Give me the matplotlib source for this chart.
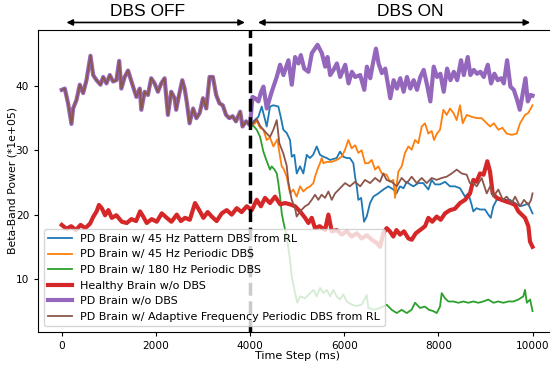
"""
Beta-band power with and without DBS
"""
import matplotlib
matplotlib.use("Agg")
import matplotlib.pyplot as plt

# shared PD trace before DBS switches on (time in ms, power in 1e5)
pre_t = [0, 64, 134, 206, 241, 312, 383, 454, 525, 610, 667, 738, 823, 880, 950, 1020,
         1090, 1160, 1220, 1266, 1337, 1408, 1480, 1585, 1657, 1690, 1760, 1830, 1900,
         1972, 2043, 2113, 2184, 2255, 2326, 2397, 2430, 2500, 2560, 2610, 2660, 2715,
         2790, 2860, 2930, 3000, 3070, 3140, 3210, 3280, 3350, 3420, 3490, 3560, 3630,
         3700, 3790, 3840, 3915, 4000]
pre_v = [39.4, 39.6, 37.3, 34.1, 36.5, 37.8, 40.2, 38.9, 40.9, 44.7, 41.7, 40.9, 40.2,
         41.4, 40.4, 41.7, 40.7, 40.9, 43.9, 39.6, 41.4, 42.4, 40.7, 38.3, 39.6, 36.3,
         39.1, 38.6, 41.2, 40.4, 39.1, 40.4, 41.2, 35.5, 39.1, 38.1, 36.3, 38.9, 40.9,
         39.6, 37.3, 34.2, 36.5, 35.0, 35.8, 38.1, 36.5, 41.4, 41.4, 38.6, 37.3, 37.0,
         35.5, 35.0, 35.3, 34.5, 36.0, 33.7, 34.5, 33.9]

blue_t = [4070, 4176, 4248, 4354, 4424, 4495, 4601, 4651, 4707, 4778, 4849, 4885, 4940,
          4991, 5062, 5132, 5204, 5270, 5340, 5416, 5486, 5560, 5629, 5700, 5840, 5911,
          5980, 6054, 6120, 6194, 6230, 6266, 6300, 6360, 6421, 6478, 6549, 6619, 6725,
          6831, 6937, 7043, 7110, 7185, 7260, 7328, 7400, 7470, 7574, 7680, 7787, 7858,
          7930, 8035, 8142, 8248, 8350, 8460, 8566, 8636, 8708, 8742, 8810, 8885, 8990,
          9061, 9112, 9168, 9239, 9380, 9522, 9628, 9734, 9840, 9900, 10000]
blue_v = [34.5, 35.2, 36.8, 33.7, 36.8, 37.0, 36.8, 35.2, 33.2, 32.7, 31.6, 29.0, 29.3,
          26.4, 27.5, 26.4, 29.3, 28.8, 29.3, 30.6, 29.3, 29.0, 28.8, 28.5, 28.8, 29.8,
          29.0, 28.8, 28.8, 28.0, 25.9, 24.4, 22.3, 22.6, 18.9, 19.7, 21.8, 22.8, 23.3,
          23.9, 24.4, 23.9, 23.3, 24.4, 24.1, 25.1, 24.7, 24.4, 24.9, 24.9, 23.9, 25.4,
          24.7, 24.7, 25.1, 24.4, 24.4, 24.1, 22.8, 23.3, 21.5, 20.5, 21.0, 20.8, 20.8,
          20.0, 19.5, 21.3, 22.3, 22.3, 22.3, 21.8, 21.3, 21.5, 21.8, 20.2]

orange_t = [4070, 4150, 4212, 4283, 4354, 4424, 4495, 4580, 4637, 4673, 4707, 4778, 4849,
            4919, 4990, 5062, 5132, 5204, 5275, 5345, 5380, 5430, 5486, 5523, 5557, 5629,
            5735, 5841, 5947, 6018, 6088, 6159, 6230, 6300, 6370, 6442, 6513, 6584, 6655,
            6725, 6797, 6903, 6973, 7043, 7080, 7150, 7221, 7292, 7362, 7433, 7504, 7575,
            7646, 7716, 7787, 7858, 7908, 7970, 8035, 8106, 8177, 8248, 8320, 8390, 8460,
            8517, 8602, 8710, 8815, 8920, 9027, 9100, 9180, 9274, 9360, 9452, 9560, 9664,
            9735, 9841, 9910, 10000]
orange_v = [34.0, 34.5, 33.5, 33.2, 31.6, 32.0, 30.6, 31.7, 29.0, 27.5, 27.2, 25.9, 23.3,
            23.9, 22.8, 24.4, 23.6, 24.1, 24.4, 24.9, 25.9, 27.0, 28.0, 28.8, 28.0, 28.2,
            28.2, 28.5, 29.0, 30.1, 31.6, 30.3, 30.8, 29.6, 30.0, 28.0, 28.0, 28.5, 27.0,
            27.5, 26.4, 26.2, 25.1, 25.4, 22.6, 26.7, 27.5, 29.6, 30.6, 30.1, 31.6, 31.1,
            33.7, 34.2, 32.6, 33.0, 31.6, 32.6, 33.2, 36.3, 35.5, 36.5, 35.8, 34.7, 37.0,
            34.2, 35.5, 35.2, 35.0, 35.0, 34.2, 33.7, 34.2, 33.2, 33.5, 32.6, 32.4, 32.6,
            34.2, 35.5, 35.8, 37.0]

green_t = [4070, 4142, 4212, 4283, 4354, 4424, 4460, 4520, 4567, 4601, 4637, 4673, 4707,
           4778, 4849, 4885, 4955, 5004, 5062, 5168, 5274, 5345, 5415, 5486, 5560, 5630,
           5700, 5770, 5840, 5911, 5980, 6054, 6160, 6260, 6370, 6478, 6513, 6640, 6761,
           6903, 7009, 7116, 7220, 7328, 7430, 7504, 7610, 7716, 7800, 7893, 7964, 8035,
           8071, 8140, 8212, 8320, 8424, 8530, 8636, 8743, 8850, 8955, 9061, 9170, 9274,
           9380, 9487, 9593, 9700, 9805, 9840, 9880, 9950, 10000]
green_v = [33.8, 33.2, 32.1, 29.8, 28.3, 27.0, 27.5, 27.0, 26.4, 24.9, 22.8, 20.2, 18.9,
           16.6, 13.0, 10.4, 7.8, 6.3, 7.3, 7.0, 7.8, 8.3, 7.3, 8.6, 7.8, 8.3, 7.3, 8.3,
           7.3, 6.8, 7.6, 6.5, 6.0, 5.8, 6.0, 7.5, 5.5, 5.2, 5.5, 6.0, 5.2, 4.7, 5.2, 4.7,
           5.2, 6.3, 5.5, 5.7, 5.2, 5.0, 4.7, 5.7, 7.8, 7.0, 6.5, 6.5, 6.3, 6.5, 6.3, 6.5,
           6.3, 6.5, 6.8, 6.3, 6.5, 6.3, 6.5, 6.5, 6.8, 7.3, 8.3, 6.3, 6.8, 5.0]

healthy_t = [0, 100, 200, 300, 400, 500, 600, 672, 740, 790, 850, 920, 990, 1062, 1160,
             1274, 1380, 1480, 1580, 1663, 1730, 1805, 1910, 2018, 2124, 2230, 2330, 2443,
             2530, 2619, 2720, 2831, 2920, 3008, 3100, 3186, 3290, 3398, 3504, 3610, 3717,
             3820, 3930, 4036, 4142, 4230, 4318, 4424, 4531, 4640, 4743, 4850, 4955, 5062,
             5168, 5239, 5310, 5380, 5480, 5593, 5664, 5735, 5840, 5947, 6054, 6160, 6266,
             6372, 6480, 6585, 6691, 6761, 6831, 6903, 6970, 7043, 7110, 7186, 7270, 7363,
             7434, 7520, 7611, 7717, 7788, 7870, 7965, 8050, 8142, 8248, 8350, 8460, 8567,
             8673, 8743, 8810, 8885, 8960, 9040, 9097, 9154, 9239, 9340, 9452, 9540, 9628,
             9700, 9771, 9841, 9912, 9947, 10000]
healthy_v = [18.4, 17.8, 18.2, 17.6, 18.4, 17.9, 18.6, 19.7, 20.5, 21.5, 21.0, 19.9, 20.7,
             19.5, 19.9, 18.9, 18.7, 19.3, 19.0, 20.5, 19.7, 18.7, 19.3, 18.9, 20.2, 19.5,
             18.9, 20.0, 19.0, 19.5, 19.2, 21.8, 20.7, 19.5, 20.4, 19.7, 19.0, 20.2, 20.7,
             20.0, 21.0, 20.4, 21.3, 20.7, 22.3, 21.3, 22.6, 21.8, 22.8, 21.6, 21.8, 21.6,
             21.3, 20.5, 19.5, 18.7, 19.5, 17.9, 18.2, 17.6, 20.0, 17.4, 17.6, 16.9, 17.4,
             16.6, 17.1, 16.3, 16.8, 16.1, 15.6, 15.0, 17.1, 17.9, 17.4, 16.6, 17.6, 16.9,
             17.4, 16.3, 16.1, 17.1, 17.6, 18.2, 19.5, 18.9, 19.7, 19.2, 20.2, 20.7, 20.9,
             21.8, 22.3, 23.3, 25.4, 25.1, 26.4, 26.2, 28.3, 26.7, 23.3, 22.6, 22.3, 22.0,
             21.8, 21.5, 20.5, 20.0, 19.5, 18.2, 15.8, 15.0]

purple_t = [4050, 4106, 4177, 4230, 4284, 4355, 4460, 4567, 4638, 4709, 4815, 4886, 4957,
            5028, 5078, 5150, 5240, 5312, 5433, 5525, 5596, 5645, 5702, 5773, 5844, 5915,
            6021, 6092, 6163, 6234, 6340, 6426, 6482, 6553, 6610, 6674, 6730, 6800, 6872,
            6978, 7050, 7120, 7191, 7262, 7333, 7404, 7475, 7546, 7617, 7688, 7759, 7830,
            7901, 7972, 8043, 8114, 8185, 8257, 8328, 8400, 8482, 8540, 8624, 8680, 8752,
            8823, 8894, 8965, 9050, 9120, 9190, 9262, 9333, 9390, 9460, 9531, 9603, 9674,
            9730, 9780, 9850, 9900, 9958, 10000]
purple_v = [38.3, 38.1, 37.6, 39.0, 39.9, 36.5, 39.1, 41.4, 43.3, 41.7, 44.0, 40.2, 44.5,
            43.5, 44.8, 42.7, 42.2, 45.1, 46.4, 45.1, 43.0, 44.5, 41.7, 42.5, 43.5, 41.4,
            43.3, 40.4, 42.2, 41.4, 41.7, 39.4, 43.0, 41.2, 43.5, 45.8, 43.5, 42.0, 42.7,
            38.1, 40.9, 39.6, 41.2, 39.1, 41.4, 39.6, 40.9, 39.4, 41.4, 42.5, 40.2, 37.6,
            43.0, 41.4, 41.9, 39.1, 42.7, 40.9, 42.2, 40.9, 44.0, 41.7, 44.5, 41.7, 42.5,
            41.9, 42.2, 41.4, 43.3, 40.4, 41.9, 40.9, 41.2, 40.4, 44.0, 39.9, 39.4, 37.8,
            36.3, 38.3, 41.2, 37.6, 38.6, 38.5]

brown_t = [4070, 4140, 4212, 4283, 4354, 4424, 4495, 4567, 4622, 4707, 4778, 4813, 4885,
           4955, 4990, 5062, 5168, 5240, 5310, 5380, 5450, 5520, 5593, 5664, 5735, 5805,
           5911, 6018, 6120, 6230, 6340, 6442, 6550, 6655, 6760, 6831, 6900, 7009, 7116,
           7220, 7328, 7434, 7540, 7646, 7752, 7858, 7964, 8071, 8177, 8283, 8390, 8496,
           8602, 8670, 8743, 8815, 8920, 9027, 9100, 9168, 9274, 9370, 9452, 9558, 9630,
           9735, 9820, 9912, 9970, 10000]
brown_v = [34.2, 34.9, 33.8, 33.2, 32.6, 32.1, 33.2, 34.7, 31.1, 29.5, 27.6, 25.1, 22.3,
           21.0, 19.7, 20.5, 21.3, 21.6, 22.3, 23.1, 22.3, 23.1, 22.6, 23.6, 22.3, 23.3,
           24.1, 24.9, 24.4, 25.1, 24.4, 25.4, 24.9, 25.7, 25.1, 26.4, 25.4, 25.1, 24.4,
           25.7, 24.9, 25.9, 24.9, 25.7, 24.9, 25.7, 25.4, 25.7, 25.9, 26.4, 27.0, 26.4,
           26.2, 24.9, 24.9, 24.4, 25.7, 23.3, 24.4, 22.8, 23.9, 22.3, 22.8, 21.8, 22.8,
           21.3, 22.3, 21.5, 22.3, 23.3]

labels = ["PD Brain w/ 45 Hz Pattern DBS from RL",
          "PD Brain w/ 45 Hz Periodic DBS",
          "PD Brain w/ 180 Hz Periodic DBS",
          "Healthy Brain w/o DBS",
          "PD Brain w/o DBS",
          "PD Brain w/ Adaptive Frequency Periodic DBS from RL"]


def show_beta_power():
    fig = plt.figure(figsize=(5.5, 3.66), dpi=100)
    ax = fig.add_axes([0.0695, 0.0937, 0.9415, 0.8243])

    ax.plot(pre_t + blue_t, pre_v + blue_v, color="#1f77b4", lw=1.3, label=labels[0])
    ax.plot(pre_t + orange_t, pre_v + orange_v, color="#ff7f0e", lw=1.3, label=labels[1])
    ax.plot(pre_t + green_t, pre_v + green_v, color="#2ca02c", lw=1.3, label=labels[2])
    ax.plot(healthy_t, healthy_v, color="#d62728", lw=3, label=labels[3])
    ax.plot(pre_t + purple_t, pre_v + purple_v, color="#9467bd", lw=3, label=labels[4])
    ax.plot(pre_t + brown_t, pre_v + brown_v, color="#8c564b", lw=1.3, label=labels[5])

    ax.axvline(4000, color="black", ls="--", lw=2.5)

    ax.set_xlim(-500, 10500)
    ax.set_ylim(1.8, 48.7)
    ax.set_xticks([0, 2000, 4000, 6000, 8000, 10000])
    ax.set_yticks([10, 20, 30, 40])
    ax.tick_params(labelsize=7.6, length=3)
    ax.set_xlabel("Time Step (ms)", fontsize=8, labelpad=0)
    ax.set_ylabel("Beta-Band Power (*1e+05)", fontsize=7.8, labelpad=-1)

    ax.legend(loc="lower left", fontsize=8, handlelength=2.1, labelspacing=0.5,
              borderaxespad=0.5)

    # DBS OFF / ON arrows above the axes
    tr = ax.get_xaxis_transform()
    arrow = dict(arrowstyle="<|-|>", color="black", lw=1.2, mutation_scale=9,
                 shrinkA=0, shrinkB=0)
    ax.annotate("", xy=(100, 1.025), xytext=(3890, 1.025), xycoords=tr,
                textcoords=tr, arrowprops=arrow, annotation_clip=False)
    ax.annotate("", xy=(4170, 1.025), xytext=(9950, 1.025), xycoords=tr,
                textcoords=tr, arrowprops=arrow, annotation_clip=False)
    ax.text(1830, 1.06, "DBS OFF", transform=tr, ha="center", va="center",
            fontsize=12.5, family="Liberation Sans")
    ax.text(7400, 1.06, "DBS ON", transform=tr, ha="center", va="center",
            fontsize=12.5, family="Liberation Sans")

    fig.savefig("out.png", dpi=100)


if __name__ == '__main__':
    show_beta_power()
